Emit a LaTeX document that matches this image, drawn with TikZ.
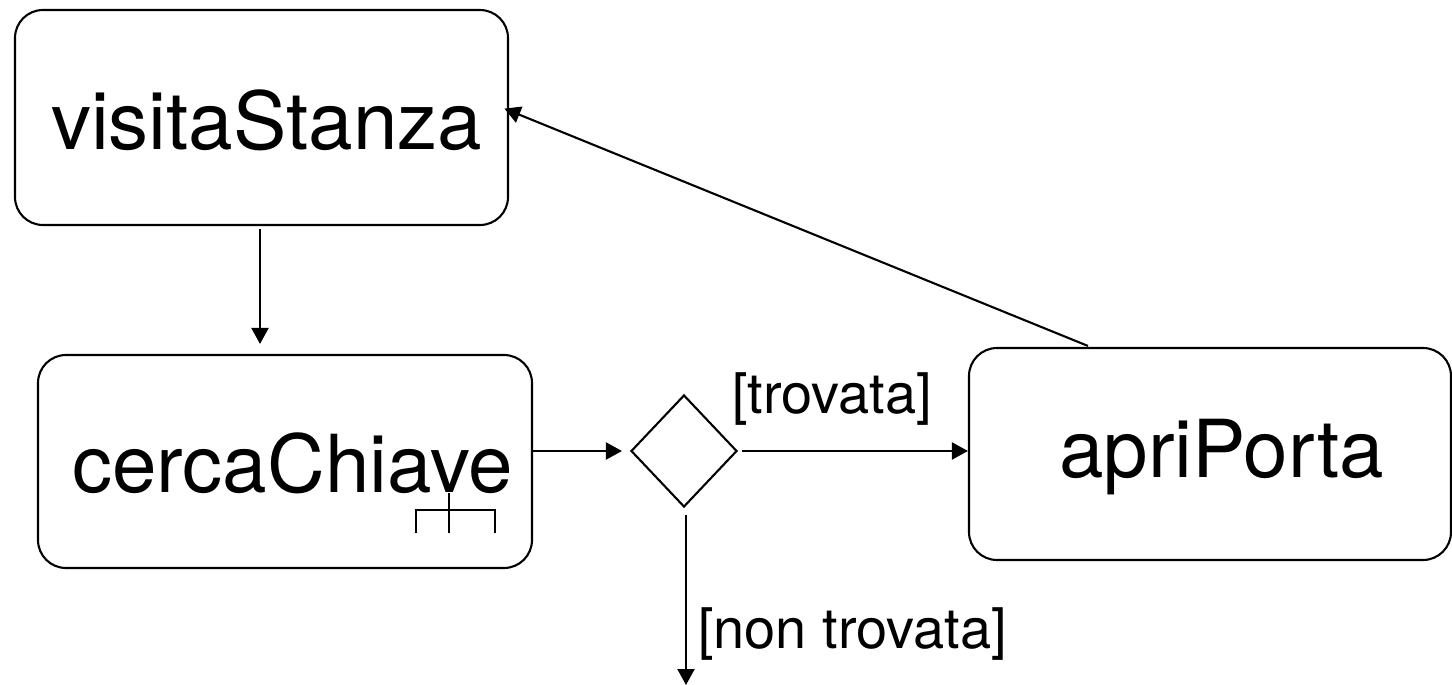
\documentclass[tikz,border=0pt]{standalone}
\usepackage{fontspec}
\setmainfont{TeX Gyre Heros}
\usetikzlibrary{shapes.geometric,arrows.meta,calc}
\begin{document}
\begin{tikzpicture}[x=1pt,y=-1pt,
  line width=2.1pt,
  actbox/.style={draw, rounded corners=28pt, inner sep=0pt},
  bigtext/.style={anchor=base west, inner sep=0pt, font=\fontsize{80}{96}\selectfont},
  guard/.style={anchor=base west, inner sep=0pt, font=\fontsize{56}{67}\selectfont},
  arr/.style={-{Triangle[length=16pt,width=17pt]}},
  decision/.style={draw, diamond, inner sep=0pt, minimum width=106pt, minimum height=112pt, shape aspect=0.95}
]
\useasboundingbox (0,0) rectangle (1452,685);
% activity boxes
\node[actbox, minimum width=493pt, minimum height=215pt] (visitaStanza) at (261.5,117.5) {};
\node[actbox, minimum width=494pt, minimum height=213pt] (cercaChiave) at (285,461.5) {};
\node[actbox, minimum width=482pt, minimum height=212pt] (apriPorta) at (1210,454) {};
\node[decision] (dec) at (684,451) {};
% texts
\node[bigtext] (tvisita) at (50,149) {visitaStanza};
\node[bigtext] (tcerca) at (71,492) {cercaChiave};
\node[bigtext] (tapri) at (1058,477) {apriPorta};
\node[guard] (gtrov) at (731,413) {[trovata]};
\node[guard] (gnon) at (697,648) {[non trovata]};
% rake symbol
\draw (416,533) -- (416,510) -- (495,510) -- (495,533);
\draw (449,493) -- (449,533);
% connectors
\coordinate (out) at (686,685);
\draw[arr, shorten <=3pt, shorten >=10pt] ($(visitaStanza.south)+(-1.5,0)$) -- ($(visitaStanza.south |- cercaChiave.north)+(-1.5,0)$);
\draw[arr, shorten >=8pt] (cercaChiave.east |- dec.west) -- (dec.west);
\draw[arr, shorten <=4pt] (dec.east) -- (apriPorta.west |- dec.east);
\draw[arr, shorten <=7pt] ($(dec.south)+(2,0)$) -- (out);
\draw[arr, shorten >=-5pt] ($(apriPorta.north west)+(120,-1)$) -- ($(visitaStanza.east)+(0,-7)$);
\end{tikzpicture}
\end{document}
